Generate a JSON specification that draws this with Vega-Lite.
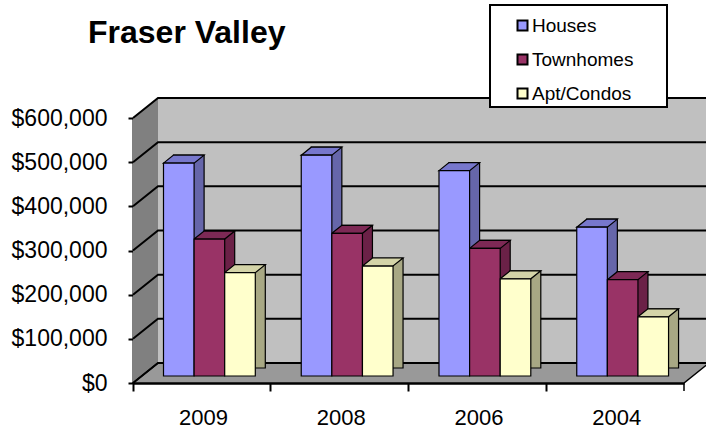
{
  "$schema": "https://vega.github.io/schema/vega-lite/v6.json",
  "width": 551,
  "height": 265,
  "autosize": {"type": "none"},
  "padding": {"left": 133, "top": 118, "right": 22, "bottom": 49},
  "background": "white",
  "config": {"view": {"stroke": null}, "font": "Liberation Sans"},
  "title": {"text": "Fraser Valley", "anchor": "start", "frame": "group", "dx": -45, "offset": -74, "fontSize": 32, "fontWeight": "bold", "color": "black", "font": "Liberation Sans", "baseline": "alphabetic"},
  "datasets": {
    "prices": [
      {"year": "2009", "type": "Houses", "price": 482000},
      {"year": "2009", "type": "Townhomes", "price": 310000},
      {"year": "2009", "type": "Apt/Condos", "price": 234000},
      {"year": "2008", "type": "Houses", "price": 500000},
      {"year": "2008", "type": "Townhomes", "price": 323000},
      {"year": "2008", "type": "Apt/Condos", "price": 249000},
      {"year": "2006", "type": "Houses", "price": 465000},
      {"year": "2006", "type": "Townhomes", "price": 289000},
      {"year": "2006", "type": "Apt/Condos", "price": 220000},
      {"year": "2004", "type": "Houses", "price": 337000},
      {"year": "2004", "type": "Townhomes", "price": 218000},
      {"year": "2004", "type": "Apt/Condos", "price": 134000}
    ],
    "grid": [{"v": 0}, {"v": 100000}, {"v": 200000}, {"v": 300000}, {"v": 400000}, {"v": 500000}, {"v": 600000}]
  },
  "data": {"name": "prices"},
  "layer": [
    {
      "data": {"values": [{}]},
      "mark": {"type": "point", "shape": "M25,-20H620V245H25Z", "size": 4, "filled": true, "fill": "#c0c0c0", "strokeWidth": 0, "opacity": 1},
      "encoding": {
        "x": {"datum": "2009", "type": "ordinal", "bandPosition": 0},
        "y": {"datum": 600000, "type": "quantitative"}
      }
    },
    {
      "data": {"values": [{}]},
      "mark": {"type": "point", "shape": "M0,0L25,-20V245L0,265Z", "size": 4, "filled": true, "fill": "#808080", "strokeWidth": 0, "opacity": 1},
      "encoding": {
        "x": {"datum": "2009", "type": "ordinal", "bandPosition": 0},
        "y": {"datum": 600000, "type": "quantitative"}
      }
    },
    {
      "data": {"values": [{}]},
      "mark": {"type": "point", "shape": "M0,265L25,245H576L551,265ZM551,265V273", "size": 4, "filled": true, "fill": "#999999", "stroke": "black", "strokeWidth": 1.5, "opacity": 1},
      "encoding": {
        "x": {"datum": "2009", "type": "ordinal", "bandPosition": 0},
        "y": {"datum": 600000, "type": "quantitative"}
      }
    },
    {
      "data": {"name": "grid"},
      "mark": {"type": "point", "shape": "M0,0L25,-20H620", "size": 4, "filled": false, "stroke": "black", "strokeWidth": 2, "opacity": 1},
      "encoding": {
        "x": {"datum": "2009", "type": "ordinal", "bandPosition": 0},
        "y": {"field": "v", "type": "quantitative"}
      }
    },
    {
      "mark": {"type": "bar", "stroke": "black", "strokeWidth": 1.2, "yOffset": -15, "y2Offset": -11},
      "encoding": {
        "x": {"field": "year", "type": "ordinal", "sort": ["2009", "2008", "2006", "2004"]},
        "xOffset": {"field": "type", "type": "nominal", "sort": ["Houses", "Townhomes", "Apt/Condos"], "scale": {"range": [40.5, 132.3], "paddingInner": 0, "paddingOuter": 0}},
        "y": {"field": "price", "type": "quantitative"},
        "color": {"field": "type", "type": "nominal", "scale": {"domain": ["Houses", "Townhomes", "Apt/Condos"], "range": ["#6666aa", "#6b2147", "#a8a884"]}, "legend": null}
      }
    },
    {
      "mark": {"type": "point", "shape": "M0,0L10,-8H40.6L30.6,0Z", "size": 4, "filled": true, "stroke": "black", "strokeWidth": 1.2, "opacity": 1, "yOffset": -7},
      "encoding": {
        "x": {"field": "year", "type": "ordinal", "sort": ["2009", "2008", "2006", "2004"]},
        "xOffset": {"field": "type", "type": "nominal", "sort": ["Houses", "Townhomes", "Apt/Condos"], "scale": {"range": [30.5, 91.7], "padding": 0}},
        "y": {"field": "price", "type": "quantitative"},
        "color": {"field": "type", "type": "nominal", "scale": {"domain": ["Houses", "Townhomes", "Apt/Condos"], "range": ["#7777cc", "#7d2955", "#d4d4a8"]}, "legend": null}
      }
    },
    {
      "mark": {"type": "bar", "stroke": "black", "strokeWidth": 1.2, "yOffset": -7, "y2Offset": -7},
      "encoding": {
        "x": {"field": "year", "type": "ordinal", "sort": ["2009", "2008", "2006", "2004"],
          "scale": {"paddingInner": 0, "paddingOuter": 0},
          "axis": {"title": null, "bandPosition": 0, "labelOffset": 26, "labelAngle": 0, "labelFontSize": 22, "labelFont": "Liberation Sans", "labelColor": "black", "labelPadding": 26, "tickSize": 8, "tickWidth": 2, "tickColor": "black", "domainColor": "black", "domainWidth": 2.5, "grid": false}},
        "xOffset": {"field": "type", "type": "nominal", "sort": ["Houses", "Townhomes", "Apt/Condos"], "scale": {"range": [30.5, 122.3], "paddingInner": 0, "paddingOuter": 0}},
        "y": {"field": "price", "type": "quantitative", "scale": {"domain": [0, 600000], "nice": false},
          "axis": {"title": null, "values": [0, 100000, 200000, 300000, 400000, 500000, 600000], "format": "$,.0f", "labelFontSize": 23, "labelFont": "Liberation Sans", "labelColor": "black", "labelPadding": 21, "tickSize": 5, "tickWidth": 2, "tickColor": "black", "domainColor": "black", "domainWidth": 2, "grid": false}},
        "color": {"field": "type", "type": "nominal", "sort": ["Houses", "Townhomes", "Apt/Condos"],
          "scale": {"domain": ["Houses", "Townhomes", "Apt/Condos"], "range": ["#9999ff", "#993366", "#ffffcc"]},
          "legend": {"orient": "none", "legendX": 380, "legendY": -102, "title": null, "symbolType": "square", "symbolSize": 100, "symbolStrokeColor": "black", "symbolStrokeWidth": 2, "labelFontSize": 19, "labelFont": "Liberation Sans", "labelColor": "black", "rowPadding": 14, "labelOffset": 0, "padding": 0}}
      }
    },
    {
      "data": {"values": [{}]},
      "mark": {"type": "point", "shape": "M357,-113H534V-11H357Z", "size": 4, "filled": true, "fill": "white", "stroke": "black", "strokeWidth": 2, "opacity": 1},
      "encoding": {
        "x": {"datum": "2009", "type": "ordinal", "bandPosition": 0},
        "y": {"datum": 600000, "type": "quantitative"}
      }
    }
  ],
  "resolve": {"scale": {"xOffset": "independent", "color": "independent"}}
}
